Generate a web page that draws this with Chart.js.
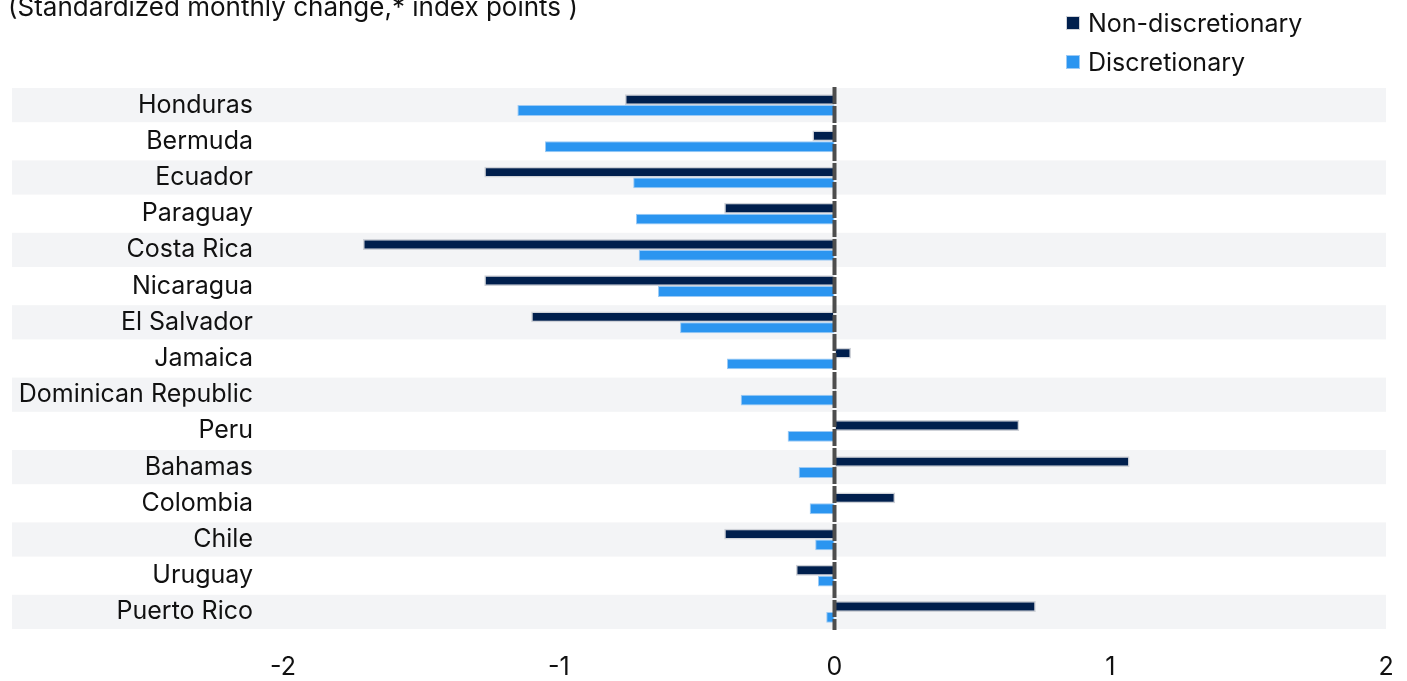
<!DOCTYPE html>
<html>
<head>
<meta charset="utf-8">
<script src="https://cdn.jsdelivr.net/npm/chart.js@4"></script>
<style>
    body { margin: 0; background: #fff; font-family: Inter, sans-serif; }
    .wrap { position: relative; width: 1407px; height: 681px; overflow: hidden; }
    .note { position: absolute; left: 8px; top: -9px; font-size: 26px; color: #111; white-space: nowrap; }
    .legend { position: absolute; left: 1066px; top: 3px; font-size: 25px; color: #111; }
    .legend-item { display: flex; align-items: center; height: 39px; }
    .swatch { width: 14px; height: 14px; margin-right: 8px; box-sizing: border-box; }
    canvas { position: absolute; left: 0; top: 0; }
</style>
</head>
<body>
<div class="wrap">
    <canvas id="barChart" width="1407" height="681"></canvas>
    <div class="note">(Standardized monthly change,* index points )</div>
    <div class="legend" id="legend"></div>
</div>
<script>
const countries = ['Honduras', 'Bermuda', 'Ecuador', 'Paraguay', 'Costa Rica', 'Nicaragua', 'El Salvador',
    'Jamaica', 'Dominican Republic', 'Peru', 'Bahamas', 'Colombia', 'Chile', 'Uruguay', 'Puerto Rico'];
const nonDiscretionary = [-0.76, -0.08, -1.27, -0.40, -1.71, -1.27, -1.10, 0.06, 0.005, 0.67, 1.07, 0.22, -0.40, -0.14, 0.73];
const discretionary = [-1.15, -1.05, -0.73, -0.72, -0.71, -0.64, -0.56, -0.39, -0.34, -0.17, -0.13, -0.09, -0.07, -0.06, -0.03];
const xTicks = [-2, -1, 0, 1, 2];

const navy = '#001f4d';
const blue = '#2b95f0';
const font = { family: 'Inter, sans-serif', size: 25 };

// grey bands on alternate rows, reaching under the labels
const bandsPlugin = {
    id: 'bands',
    beforeDraw(chart) {
        const { ctx, chartArea, scales } = chart;
        const y = scales.y;
        const step = y.getPixelForValue(1) - y.getPixelForValue(0);
        ctx.save();
        ctx.fillStyle = '#f3f4f6';
        countries.forEach((c, i) => {
            if (i % 2 === 0) {
                const mid = y.getPixelForValue(i);
                ctx.fillRect(12, mid - step / 2 + 1, chartArea.right - 12, step - 2);
            }
        });
        ctx.restore();
    },
    afterDatasetsDraw(chart) {
        const { ctx, chartArea, scales } = chart;
        const x0 = scales.x.getPixelForValue(0);
        ctx.save();
        ctx.strokeStyle = '#4d4d4d';
        ctx.lineWidth = 4;
        ctx.setLineDash([17, 2]);
        ctx.beginPath();
        ctx.moveTo(x0, chartArea.top);
        ctx.lineTo(x0, chartArea.bottom);
        ctx.stroke();
        ctx.restore();
    }
};

const chart = new Chart(document.getElementById('barChart'), {
    type: 'bar',
    data: {
        labels: countries,
        datasets: [{
            label: 'Non-discretionary',
            data: nonDiscretionary,
            backgroundColor: navy,
            borderColor: '#cfd2d8',
            borderWidth: 1.5,
            borderSkipped: false
        }, {
            label: 'Discretionary',
            data: discretionary,
            backgroundColor: blue,
            borderColor: '#9ccaf5',
            borderWidth: 1,
            borderSkipped: false
        }]
    },
    options: {
        indexAxis: 'y',
        responsive: false,
        animation: false,
        layout: { padding: { top: 87, right: 21, left: 0, bottom: 0 } },
        datasets: { bar: { categoryPercentage: 0.6, barPercentage: 1 } },
        scales: {
            x: {
                min: -2,
                max: 2,
                afterBuildTicks(scale) { scale.ticks = xTicks.map(v => ({ value: v })); },
                afterFit(scale) {
                    scale.height = 51;
                    scale.paddingLeft = 0;
                    scale.paddingRight = 0;
                },
                grid: { display: false, drawTicks: false },
                border: { display: false },
                ticks: { font: font, color: '#111', padding: 22 }
            },
            y: {
                afterFit(scale) { scale.width = 283; },
                grid: { display: false, drawTicks: false },
                border: { display: false },
                ticks: { font: font, color: '#111', padding: 30, autoSkip: false }
            }
        },
        plugins: {
            legend: { display: false },
            tooltip: { enabled: false }
        }
    },
    plugins: [bandsPlugin]
});

document.getElementById('legend').innerHTML = chart.data.datasets.map(ds => `
    <div class="legend-item">
        <span class="swatch" style="background:${ds.backgroundColor};border:1px solid ${ds.borderColor}"></span>
        <span>${ds.label}</span>
    </div>`).join('');
</script>
</body>
</html>
